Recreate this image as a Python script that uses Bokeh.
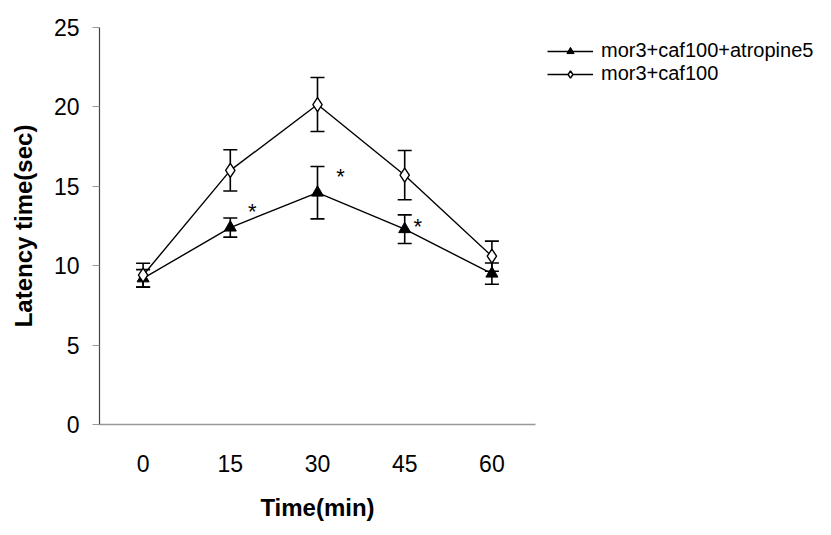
from bokeh.plotting import figure
from bokeh.models import (ColumnDataSource, Whisker, TeeHead, Legend, LegendItem,
                          FixedTicker, Range1d)
from bokeh.embed import file_html
from bokeh.resources import INLINE
from bokeh.core.properties import value

# ---- data ----
times = ["0", "15", "30", "45", "60"]
atro_mean = [9.2, 12.4, 14.6, 12.3, 9.5]
atro_err = [0.55, 0.6, 1.65, 0.9, 0.67]
caf_mean = [9.4, 16.0, 20.15, 15.7, 10.6]
caf_err = [0.75, 1.3, 1.7, 1.55, 0.95]
star_times = ["15", "30", "45"]
star_y = [13.4, 15.6, 12.5]
y_ticks = [0, 5, 10, 15, 20, 25]

FONT = "Liberation Sans"

xs = list(range(len(times)))
idx = {t: i for i, t in enumerate(times)}

p = figure(frame_width=436, frame_height=397, output_backend="svg", toolbar_location=None,
           x_range=Range1d(-0.5, len(times) - 0.5), y_range=Range1d(0, 25),
           min_border_left=99, min_border_right=10, min_border_top=27,
           min_border_bottom=111)
p.outline_line_color = None
p.xgrid.grid_line_color = None
p.ygrid.grid_line_color = None
p.background_fill_color = "white"
p.border_fill_color = "white"

src_a = ColumnDataSource(dict(x=xs, y=atro_mean,
                              lo=[m - e for m, e in zip(atro_mean, atro_err)],
                              hi=[m + e for m, e in zip(atro_mean, atro_err)]))
src_c = ColumnDataSource(dict(x=xs, y=caf_mean,
                              lo=[m - e for m, e in zip(caf_mean, caf_err)],
                              hi=[m + e for m, e in zip(caf_mean, caf_err)]))

for src in (src_c, src_a):
    w = Whisker(source=src, base="x", upper="hi", lower="lo",
                line_color="black", line_width=1.6,
                upper_head=TeeHead(size=14, line_color="black", line_width=1.6),
                lower_head=TeeHead(size=14, line_color="black", line_width=1.6))
    p.add_layout(w)

la = p.line("x", "y", source=src_a, line_color="black", line_width=1.4)
sa = p.scatter("x", "y", source=src_a, marker="triangle", size=12,
               fill_color="black", line_color="black")
lc = p.line("x", "y", source=src_c, line_color="black", line_width=1.4)
sc = p.scatter("x", "y", source=src_c, marker="diamond", size=14,
               fill_color="white", line_color="black", line_width=1.4)

star_src = ColumnDataSource(dict(x=[idx[t] for t in star_times], y=star_y,
                                 t=["*"] * len(star_times),
                                 off=[22, 23, 13]))
p.text("x", "y", text="t", source=star_src, x_offset="off",
       text_font_size="22px", text_font=value(FONT),
       text_align="center", text_baseline="middle", text_color="black")

# axes
p.yaxis.ticker = FixedTicker(ticks=y_ticks)
p.yaxis.major_tick_line_color = "#999999"
p.yaxis.major_tick_out = 7
p.yaxis.major_tick_in = 0
p.yaxis.minor_tick_line_color = None
p.yaxis.axis_line_color = "#444444"
p.yaxis.axis_line_width = 1.2
p.yaxis.major_label_text_font = FONT
p.yaxis.major_label_text_font_size = "23px"
p.yaxis.major_label_text_color = "black"
p.yaxis.major_label_standoff = 13
p.yaxis.axis_label = "Latency time(sec)"
p.yaxis.axis_label_text_font = FONT
p.yaxis.axis_label_text_font_size = "24px"
p.yaxis.axis_label_text_font_style = "bold"
p.yaxis.axis_label_text_color = "black"
p.yaxis.axis_label_standoff = 14

p.xaxis.ticker = FixedTicker(ticks=xs)
p.xaxis.major_label_overrides = {i: t for i, t in enumerate(times)}
p.xaxis.major_tick_line_color = None
p.xaxis.minor_tick_line_color = None
p.xaxis.axis_line_color = "#999999"
p.xaxis.axis_line_width = 1.5
p.xaxis.major_label_text_font = FONT
p.xaxis.major_label_text_font_size = "23px"
p.xaxis.major_label_text_color = "black"
p.xaxis.major_label_standoff = 24
p.xaxis.axis_label = "Time(min)"
p.xaxis.axis_label_text_font = FONT
p.xaxis.axis_label_text_font_size = "24px"
p.xaxis.axis_label_text_font_style = "bold"
p.xaxis.axis_label_text_color = "black"
p.xaxis.axis_label_standoff = 19

legend = Legend(items=[
    LegendItem(label="mor3+caf100+atropine5", renderers=[la, sa]),
    LegendItem(label="mor3+caf100", renderers=[lc, sc]),
], location="top_left")
legend.label_text_font = FONT
legend.label_text_font_size = "20px"
legend.label_text_color = "black"
legend.glyph_width = 46
legend.glyph_height = 18
legend.label_standoff = 8
legend.spacing = -3
legend.padding = 3
legend.margin = 12
legend.border_line_color = None
legend.background_fill_alpha = 0
p.add_layout(legend, "right")

open("out.html", "w").write(file_html(p, INLINE))
